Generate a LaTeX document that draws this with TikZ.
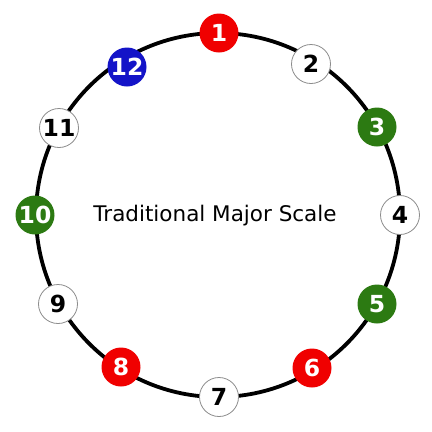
\documentclass[tikz,border=0pt]{standalone}
\usepackage{fontspec}
\setmainfont{DejaVu Sans}
\definecolor{nred}{HTML}{F00000}
\definecolor{nblue}{HTML}{1414C8}
\definecolor{ngreen}{HTML}{2C7A12}
\begin{document}
\begin{tikzpicture}[x=1pt,y=-1pt,
  dot/.style={circle,minimum size=39pt,inner sep=0pt,font=\fontsize{23.5}{23.5}\selectfont\bfseries},
  wdot/.style={dot,draw=black!45,line width=0.8pt,fill=white,text=black},
  cdot/.style={dot,fill=#1,text=white}]
\useasboundingbox (0,0) rectangle (432,432);
\fill[white] (0,0) rectangle (432,432);
\coordinate (c) at (218,215);
\draw[line width=3.8pt] (c) circle[radius=182];
\node[cdot=nred]   (n1)  at (219,33)  {1};
\node[wdot]        (n2)  at (311,64)  {2};
\node[cdot=ngreen] (n3)  at (377,127) {3};
\node[wdot]        (n4)  at (400,215) {4};
\node[cdot=ngreen] (n5)  at (377,304) {5};
\node[cdot=nred]   (n6)  at (312,368) {6};
\node[wdot]        (n7)  at (219,397) {7};
\node[cdot=nred]   (n8)  at (121,367) {8};
\node[wdot]        (n9)  at (58,304)  {9};
\node[cdot=ngreen] (n10) at (35,215)  {10};
\node[wdot]        (n11) at (59,128)  {11};
\node[cdot=nblue]  (n12) at (127,67)  {12};
\node[font=\fontsize{21.5}{21.5}\selectfont] (t) at (215,216) {Traditional Major Scale};
\end{tikzpicture}
\end{document}
